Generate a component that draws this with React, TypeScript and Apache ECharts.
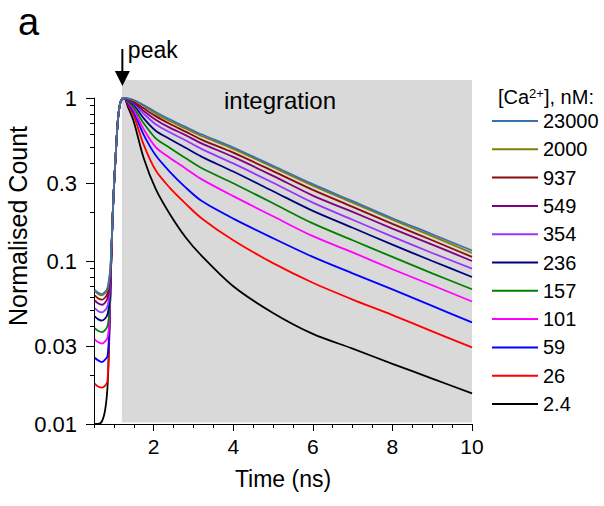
import React, { useEffect, useRef } from 'react';
import * as echarts from 'echarts';

// ---- data ----
const TIME_NS = [0.52, 0.6, 0.7, 0.78, 0.84, 0.88, 0.91, 0.94, 0.97, 1.0, 1.05, 1.1, 1.15, 1.2, 1.26, 1.35, 1.5, 1.75, 2.05, 2.4, 2.8, 3.2, 4, 5, 6, 7, 8, 9, 10];

const CA_LABELS = ['23000', '2000', '937', '549', '354', '236', '157', '101', '59', '26', '2.4'];
const CA_COLORS = ['#3d6fae', '#808000', '#8c0a0a', '#800080', '#9933ff', '#000080', '#008000', '#ff00ff', '#0000ff', '#ff0000', '#000000'];

const CA_23000 = [0.0665, 0.064, 0.0627, 0.0646, 0.0685, 0.078, 0.09, 0.125, 0.19, 0.28, 0.47, 0.73, 0.91, 0.985, 1.0, 0.995, 0.972, 0.906, 0.82, 0.74, 0.665, 0.599, 0.497, 0.384, 0.296, 0.233, 0.183, 0.146, 0.116];
const CA_2000 = [0.0653, 0.0628, 0.0615, 0.0634, 0.0672, 0.076, 0.088, 0.123, 0.19, 0.28, 0.47, 0.73, 0.91, 0.985, 1.0, 0.993, 0.965, 0.895, 0.8, 0.722, 0.65, 0.585, 0.487, 0.376, 0.29, 0.228, 0.179, 0.142, 0.112];
const CA_937 = [0.0615, 0.0591, 0.0579, 0.0597, 0.0633, 0.072, 0.084, 0.121, 0.19, 0.28, 0.47, 0.73, 0.91, 0.985, 1.0, 0.985, 0.949, 0.864, 0.774, 0.695, 0.622, 0.556, 0.462, 0.356, 0.273, 0.215, 0.169, 0.134, 0.106];
const CA_549 = [0.0573, 0.055, 0.0539, 0.0556, 0.059, 0.067, 0.08, 0.12, 0.19, 0.28, 0.47, 0.73, 0.91, 0.985, 1.0, 0.98, 0.936, 0.832, 0.735, 0.658, 0.592, 0.527, 0.435, 0.333, 0.252, 0.2, 0.158, 0.126, 0.1];
const CA_354 = [0.0514, 0.0494, 0.0484, 0.0499, 0.0529, 0.06, 0.074, 0.118, 0.19, 0.28, 0.47, 0.73, 0.91, 0.985, 1.0, 0.975, 0.923, 0.8, 0.69, 0.616, 0.55, 0.487, 0.397, 0.302, 0.228, 0.179, 0.141, 0.112, 0.0898];
const CA_236 = [0.0457, 0.044, 0.0431, 0.0444, 0.0471, 0.054, 0.069, 0.117, 0.19, 0.28, 0.47, 0.73, 0.91, 0.985, 1.0, 0.965, 0.906, 0.75, 0.63, 0.561, 0.495, 0.437, 0.354, 0.268, 0.203, 0.16, 0.126, 0.1, 0.0798];
const CA_157 = [0.0388, 0.0373, 0.0366, 0.0377, 0.04, 0.047, 0.065, 0.116, 0.19, 0.28, 0.47, 0.73, 0.91, 0.985, 1.0, 0.955, 0.872, 0.699, 0.566, 0.496, 0.428, 0.372, 0.3, 0.226, 0.17, 0.134, 0.106, 0.084, 0.0671];
const CA_101 = [0.0331, 0.0318, 0.0311, 0.0321, 0.0338, 0.041, 0.063, 0.115, 0.19, 0.28, 0.47, 0.73, 0.91, 0.985, 1.0, 0.945, 0.844, 0.643, 0.5, 0.43, 0.37, 0.318, 0.25, 0.188, 0.142, 0.113, 0.089, 0.071, 0.0564];
const CA_59 = [0.0255, 0.0246, 0.024, 0.0248, 0.0262, 0.036, 0.062, 0.115, 0.19, 0.28, 0.47, 0.73, 0.91, 0.985, 1.0, 0.93, 0.816, 0.594, 0.445, 0.354, 0.283, 0.234, 0.182, 0.138, 0.106, 0.084, 0.067, 0.053, 0.042];
const CA_26 = [0.0177, 0.017, 0.0167, 0.0172, 0.0185, 0.034, 0.062, 0.115, 0.19, 0.28, 0.47, 0.73, 0.91, 0.985, 1.0, 0.915, 0.779, 0.516, 0.36, 0.282, 0.225, 0.183, 0.134, 0.097, 0.0735, 0.058, 0.0466, 0.037, 0.0295];
const CA_2_4 = [0.01, 0.01, 0.0104, 0.0122, 0.017, 0.031, 0.06, 0.115, 0.19, 0.28, 0.47, 0.73, 0.91, 0.985, 1.0, 0.885, 0.716, 0.427, 0.277, 0.195, 0.14, 0.108, 0.07, 0.048, 0.0357, 0.029, 0.0234, 0.019, 0.0154];

const CA_VALUES = [CA_23000, CA_2000, CA_937, CA_549, CA_354, CA_236, CA_157, CA_101, CA_59, CA_26, CA_2_4];

const X_MAJOR = [2, 4, 6, 8, 10];
const X_MINOR = [0.5, 1, 1.5, 2, 2.5, 3, 3.5, 4, 4.5, 5, 5.5, 6, 6.5, 7, 7.5, 8, 8.5, 9, 9.5, 10];
const Y_MAJOR = [0.01, 0.03, 0.1, 0.3, 1];
const Y_MAJOR_LABELS = ['0.01', '0.03', '0.1', '0.3', '1'];
const Y_MINOR = [0.01, 0.02, 0.03, 0.04, 0.05, 0.06, 0.07, 0.08, 0.09, 0.1, 0.2, 0.3, 0.4, 0.5, 0.6, 0.7, 0.8, 0.9, 1];

const PEAK_T = 1.2;
const FONT = "'Liberation Sans', Arial, Helvetica, sans-serif";

export default function App() {
  const ref = useRef<HTMLDivElement>(null);

  useEffect(() => {
    if (!ref.current) return;
    const chart = echarts.init(ref.current, null, { renderer: 'svg' });

    const yMajorLog = Y_MAJOR.map((v) => Math.log10(v));
    const yMinorLog = Y_MINOR.map((v) => Math.log10(v));

    const series = CA_LABELS.map((name, i) => ({
      name,
      type: 'line',
      xAxisIndex: 0,
      yAxisIndex: 0,
      data: TIME_NS.map((t, k) => [t, CA_VALUES[i][k]]),
      symbol: 'none',
      showSymbol: false,
      smooth: 0.3,
      clip: true,
      silent: true,
      lineStyle: { width: 1.8, color: CA_COLORS[i] },
      itemStyle: { color: CA_COLORS[i] },
      emphasis: { disabled: true },
    })).reverse();

    const black = '#000';

    chart.setOption({
      animation: false,
      textStyle: { fontFamily: FONT },
      grid: { left: 94, top: 98, width: 378, height: 326, outerBoundsMode: 'none', containLabel: false },
      legend: {
        data: CA_LABELS,
        orient: 'vertical',
        left: 492,
        top: 111,
        padding: 0,
        icon: 'rect',
        itemWidth: 46,
        itemHeight: 2,
        itemGap: 8.3,
        selectedMode: false,
        textStyle: { fontSize: 20, color: black, lineHeight: 20, fontFamily: FONT },
      },
      xAxis: [
        {
          type: 'value', min: 0.5, max: 10, position: 'bottom',
          axisLine: { show: true, onZero: false, lineStyle: { color: black, width: 1 } },
          axisTick: { show: true, customValues: X_MAJOR, length: 7, lineStyle: { color: black } },
          axisLabel: { show: true, customValues: X_MAJOR, fontSize: 21, color: black, margin: 12, fontFamily: FONT },
          splitLine: { show: false },
          name: 'Time (ns)', nameLocation: 'middle', nameGap: 43,
          nameTextStyle: { fontSize: 23, color: black, fontFamily: FONT },
        },
        {
          type: 'value', min: 0.5, max: 10, position: 'bottom',
          axisLine: { show: false, onZero: false },
          axisTick: { show: true, customValues: X_MINOR, length: 4, lineStyle: { color: black } },
          axisLabel: { show: false },
          splitLine: { show: false },
        },
      ],
      yAxis: [
        {
          type: 'log', logBase: 10, min: 0.01, max: 1, position: 'left',
          axisLine: { show: true, onZero: false, lineStyle: { color: black, width: 1 } },
          axisTick: { show: false },
          axisLabel: { show: false },
          splitLine: { show: false },
          minorTick: { show: false },
          name: 'Normalised Count', nameLocation: 'middle', nameGap: 64,
          nameTextStyle: { fontSize: 25, color: black, fontFamily: FONT, padding: [0, 0, 0, 70] },
        },
        {
          type: 'value', min: -2, max: 0, position: 'left',
          axisLine: { show: false, onZero: false },
          axisTick: { show: true, customValues: yMajorLog, length: 8, lineStyle: { color: black } },
          axisLabel: {
            show: true, customValues: yMajorLog, fontSize: 22, color: black, margin: 17, fontFamily: FONT,
            formatter: (v: number) => {
              let best = 0;
              yMajorLog.forEach((lv, i) => { if (Math.abs(lv - v) < Math.abs(yMajorLog[best] - v)) best = i; });
              return Y_MAJOR_LABELS[best];
            },
          },
          splitLine: { show: false },
        },
        {
          type: 'value', min: -2, max: 0, position: 'left',
          axisLine: { show: false, onZero: false },
          axisTick: { show: true, customValues: yMinorLog, length: 4, lineStyle: { color: black } },
          axisLabel: { show: false },
          splitLine: { show: false },
        },
      ],
      series,
    });

    const x0 = chart.convertToPixel({ xAxisIndex: 0 }, PEAK_T) as number;
    const x1 = chart.convertToPixel({ xAxisIndex: 0 }, 10) as number;
    const yTop = chart.convertToPixel({ yAxisIndex: 0 }, 1) as number;
    const yBot = chart.convertToPixel({ yAxisIndex: 0 }, 0.01) as number;

    chart.setOption({
      graphic: [
        {
          type: 'rect', z: -1, silent: true,
          shape: { x: x0, y: yTop - 18, width: x1 - x0, height: yBot - 1.5 - (yTop - 18) },
          style: { fill: '#d9d9d9' },
        },
        {
          type: 'text', left: 18, top: 3, silent: true,
          style: { text: 'a', fontSize: 38, fill: black, fontFamily: FONT },
        },
        {
          type: 'line', silent: true,
          shape: { x1: x0 + 0.5, y1: yTop - 49, x2: x0 + 0.5, y2: yTop - 26 },
          style: { stroke: black, lineWidth: 2 },
        },
        {
          type: 'polygon', silent: true,
          shape: { points: [[x0 - 7, yTop - 27], [x0 + 8, yTop - 27], [x0 + 0.5, yTop - 12]] },
          style: { fill: black },
        },
        {
          type: 'text', silent: true, x: x0 + 6, y: yTop - 48,
          style: { text: 'peak', fontSize: 23, fill: black, fontFamily: FONT, textVerticalAlign: 'middle' },
        },
        {
          type: 'text', silent: true, x: 280, y: yTop + 2,
          style: { text: 'integration', fontSize: 24, fill: black, fontFamily: FONT, textAlign: 'center', textVerticalAlign: 'middle' },
        },
        {
          type: 'text', silent: true, x: 498, y: 97,
          style: {
            text: '[Ca{sup|2+}], nM:', fontSize: 20, fill: black, fontFamily: FONT, textVerticalAlign: 'middle',
            rich: { sup: { fontSize: 13, fill: black, fontFamily: FONT, verticalAlign: 'top' } },
          },
        },
      ],
    });

    return () => chart.dispose();
  }, []);

  return (
    <div
      ref={ref}
      style={{ position: 'absolute', left: 0, top: 0, width: 604, height: 506, background: '#fff' }}
    />
  );
}
